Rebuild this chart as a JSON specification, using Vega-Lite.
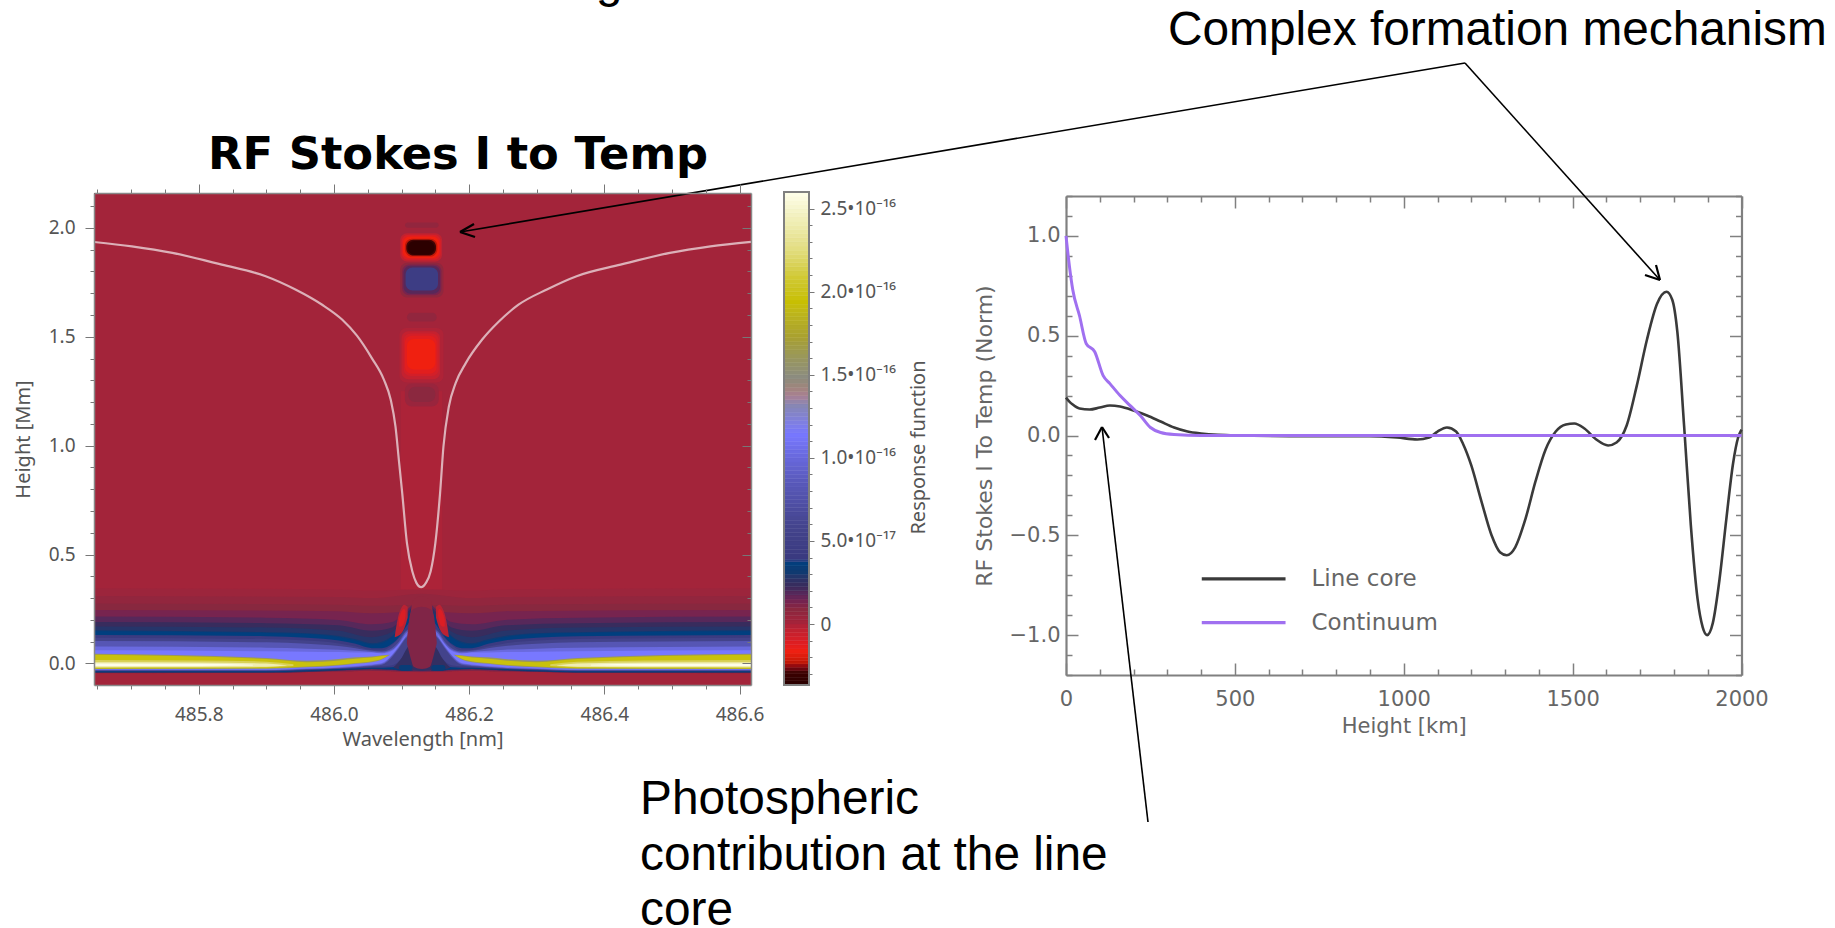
{
"$schema":"https://vega.github.io/schema/vega-lite/v6.json",
"width":1835,"height":928,"padding":0,"autosize":{"type":"none"},"background":"white",
"config":{"view":{"stroke":null},"axis":{"grid":false,"labelOverlap":false,"labelBound":false,"labelFlush":false,"titleFontWeight":"normal"}},
"datasets":{
"base":[
{"lam0":485.645,"lam1":486.617,"h0":-0.099,"h1":2.16,"v":0},
{"lam0":486.099,"lam1":486.16,"h0":0.34,"h1":1.25,"v":-0.015}
],
"bands":[
{"b":"a","lam":485.645,"lo":-0.046,"hi":0.345,"v":0.02},{"b":"a","lam":486.007,"lo":-0.038,"hi":0.34,"v":0.02},{"b":"a","lam":486.056,"lo":-0.034,"hi":0.335,"v":0.02},{"b":"a","lam":486.13,"lo":-0.04,"hi":0.34,"v":0.02},{"b":"a","lam":486.204,"lo":-0.034,"hi":0.335,"v":0.02},{"b":"a","lam":486.253,"lo":-0.038,"hi":0.34,"v":0.02},{"b":"a","lam":486.617,"lo":-0.046,"hi":0.345,"v":0.02},
{"b":"b","lam":485.645,"lo":-0.045,"hi":0.31,"v":0.05},{"b":"b","lam":486.007,"lo":-0.037,"hi":0.305,"v":0.05},{"b":"b","lam":486.056,"lo":-0.033,"hi":0.3,"v":0.05},{"b":"b","lam":486.13,"lo":-0.039,"hi":0.32,"v":0.05},{"b":"b","lam":486.204,"lo":-0.033,"hi":0.3,"v":0.05},{"b":"b","lam":486.253,"lo":-0.037,"hi":0.305,"v":0.05},{"b":"b","lam":486.617,"lo":-0.045,"hi":0.31,"v":0.05},
{"b":"c","lam":485.645,"lo":-0.044,"hi":0.275,"v":0.08},{"b":"c","lam":486.007,"lo":-0.036,"hi":0.27,"v":0.08},{"b":"c","lam":486.056,"lo":-0.032,"hi":0.265,"v":0.08},{"b":"c","lam":486.13,"lo":-0.038,"hi":0.27,"v":0.08},{"b":"c","lam":486.204,"lo":-0.032,"hi":0.265,"v":0.08},{"b":"c","lam":486.253,"lo":-0.036,"hi":0.27,"v":0.08},{"b":"c","lam":486.617,"lo":-0.044,"hi":0.275,"v":0.08},
{"b":"d","lam":485.645,"lo":-0.044,"hi":0.245,"v":0.12},{"b":"d","lam":486.007,"lo":-0.036,"hi":0.24,"v":0.12},{"b":"d","lam":486.056,"lo":-0.032,"hi":0.23,"v":0.12},{"b":"d","lam":486.13,"lo":-0.038,"hi":0.24,"v":0.12},{"b":"d","lam":486.204,"lo":-0.032,"hi":0.23,"v":0.12},{"b":"d","lam":486.253,"lo":-0.036,"hi":0.24,"v":0.12},{"b":"d","lam":486.617,"lo":-0.044,"hi":0.245,"v":0.12},

{"b":"eL","lam":485.645,"lo":-0.043,"hi":0.215,"v":0.17},{"b":"eL","lam":485.9,"lo":-0.043,"hi":0.21,"v":0.17},{"b":"eL","lam":486.007,"lo":-0.033,"hi":0.2,"v":0.17},{"b":"eL","lam":486.056,"lo":-0.027,"hi":0.18,"v":0.17},{"b":"eL","lam":486.086,"lo":-0.03,"hi":0.19,"v":0.17},{"b":"eL","lam":486.096,"lo":-0.033,"hi":0.21,"v":0.17},{"b":"eL","lam":486.106,"lo":-0.035,"hi":0.24,"v":0.17},{"b":"eL","lam":486.116,"lo":-0.035,"hi":0.27,"v":0.17},
{"b":"eR","lam":486.617,"lo":-0.043,"hi":0.215,"v":0.17},{"b":"eR","lam":486.36,"lo":-0.043,"hi":0.21,"v":0.17},{"b":"eR","lam":486.253,"lo":-0.033,"hi":0.2,"v":0.17},{"b":"eR","lam":486.204,"lo":-0.027,"hi":0.18,"v":0.17},{"b":"eR","lam":486.174,"lo":-0.03,"hi":0.19,"v":0.17},{"b":"eR","lam":486.164,"lo":-0.033,"hi":0.21,"v":0.17},{"b":"eR","lam":486.154,"lo":-0.035,"hi":0.24,"v":0.17},{"b":"eR","lam":486.144,"lo":-0.035,"hi":0.27,"v":0.17},
{"b":"fL","lam":485.645,"lo":-0.042,"hi":0.19,"v":0.22},{"b":"fL","lam":485.9,"lo":-0.042,"hi":0.185,"v":0.22},{"b":"fL","lam":486.007,"lo":-0.032,"hi":0.175,"v":0.22},{"b":"fL","lam":486.056,"lo":-0.026,"hi":0.15,"v":0.22},{"b":"fL","lam":486.086,"lo":-0.029,"hi":0.165,"v":0.22},{"b":"fL","lam":486.096,"lo":-0.032,"hi":0.19,"v":0.22},{"b":"fL","lam":486.106,"lo":-0.034,"hi":0.225,"v":0.22},{"b":"fL","lam":486.116,"lo":-0.034,"hi":0.26,"v":0.22},
{"b":"fR","lam":486.617,"lo":-0.042,"hi":0.19,"v":0.22},{"b":"fR","lam":486.36,"lo":-0.042,"hi":0.185,"v":0.22},{"b":"fR","lam":486.253,"lo":-0.032,"hi":0.175,"v":0.22},{"b":"fR","lam":486.204,"lo":-0.026,"hi":0.15,"v":0.22},{"b":"fR","lam":486.174,"lo":-0.029,"hi":0.165,"v":0.22},{"b":"fR","lam":486.164,"lo":-0.032,"hi":0.19,"v":0.22},{"b":"fR","lam":486.154,"lo":-0.034,"hi":0.225,"v":0.22},{"b":"fR","lam":486.144,"lo":-0.034,"hi":0.26,"v":0.22},
{"b":"gL","lam":485.645,"lo":-0.041,"hi":0.17,"v":0.27},{"b":"gL","lam":485.9,"lo":-0.041,"hi":0.165,"v":0.27},{"b":"gL","lam":486.007,"lo":-0.031,"hi":0.15,"v":0.27},{"b":"gL","lam":486.056,"lo":-0.025,"hi":0.12,"v":0.27},{"b":"gL","lam":486.086,"lo":-0.028,"hi":0.145,"v":0.27},{"b":"gL","lam":486.096,"lo":-0.031,"hi":0.175,"v":0.27},{"b":"gL","lam":486.106,"lo":-0.033,"hi":0.21,"v":0.27},{"b":"gL","lam":486.116,"lo":-0.033,"hi":0.255,"v":0.27},
{"b":"gR","lam":486.617,"lo":-0.041,"hi":0.17,"v":0.27},{"b":"gR","lam":486.36,"lo":-0.041,"hi":0.165,"v":0.27},{"b":"gR","lam":486.253,"lo":-0.031,"hi":0.15,"v":0.27},{"b":"gR","lam":486.204,"lo":-0.025,"hi":0.12,"v":0.27},{"b":"gR","lam":486.174,"lo":-0.028,"hi":0.145,"v":0.27},{"b":"gR","lam":486.164,"lo":-0.031,"hi":0.175,"v":0.27},{"b":"gR","lam":486.154,"lo":-0.033,"hi":0.21,"v":0.27},{"b":"gR","lam":486.144,"lo":-0.033,"hi":0.255,"v":0.27},

{"b":"hL","lam":485.645,"lo":-0.04,"hi":0.152,"v":0.32},{"b":"hL","lam":485.9,"lo":-0.04,"hi":0.143,"v":0.32},{"b":"hL","lam":485.96,"lo":-0.035,"hi":0.139,"v":0.32},{"b":"hL","lam":486.007,"lo":-0.03,"hi":0.126,"v":0.32},{"b":"hL","lam":486.032,"lo":-0.027,"hi":0.111,"v":0.32},{"b":"hL","lam":486.056,"lo":-0.024,"hi":0.093,"v":0.32},{"b":"hL","lam":486.071,"lo":-0.025,"hi":0.1,"v":0.32},{"b":"hL","lam":486.086,"lo":-0.027,"hi":0.126,"v":0.32},{"b":"hL","lam":486.096,"lo":-0.03,"hi":0.157,"v":0.32},{"b":"hL","lam":486.106,"lo":-0.032,"hi":0.2,"v":0.32},{"b":"hL","lam":486.116,"lo":-0.032,"hi":0.25,"v":0.32},
{"b":"hR","lam":486.617,"lo":-0.04,"hi":0.152,"v":0.32},{"b":"hR","lam":486.36,"lo":-0.04,"hi":0.143,"v":0.32},{"b":"hR","lam":486.3,"lo":-0.035,"hi":0.139,"v":0.32},{"b":"hR","lam":486.253,"lo":-0.03,"hi":0.126,"v":0.32},{"b":"hR","lam":486.228,"lo":-0.027,"hi":0.111,"v":0.32},{"b":"hR","lam":486.204,"lo":-0.024,"hi":0.093,"v":0.32},{"b":"hR","lam":486.189,"lo":-0.025,"hi":0.1,"v":0.32},{"b":"hR","lam":486.174,"lo":-0.027,"hi":0.126,"v":0.32},{"b":"hR","lam":486.164,"lo":-0.03,"hi":0.157,"v":0.32},{"b":"hR","lam":486.154,"lo":-0.032,"hi":0.2,"v":0.32},{"b":"hR","lam":486.144,"lo":-0.032,"hi":0.25,"v":0.32},

{"b":"iL","lam":485.645,"lo":-0.038,"hi":0.148,"v":0.36},{"b":"iL","lam":485.9,"lo":-0.038,"hi":0.14,"v":0.36},{"b":"iL","lam":485.96,"lo":-0.033,"hi":0.135,"v":0.36},{"b":"iL","lam":486.007,"lo":-0.028,"hi":0.12,"v":0.36},{"b":"iL","lam":486.032,"lo":-0.025,"hi":0.104,"v":0.36},{"b":"iL","lam":486.056,"lo":-0.022,"hi":0.087,"v":0.36},{"b":"iL","lam":486.071,"lo":-0.023,"hi":0.093,"v":0.36},{"b":"iL","lam":486.086,"lo":-0.025,"hi":0.12,"v":0.36},{"b":"iL","lam":486.096,"lo":-0.028,"hi":0.15,"v":0.36},{"b":"iL","lam":486.106,"lo":-0.03,"hi":0.195,"v":0.36},{"b":"iL","lam":486.116,"lo":-0.03,"hi":0.24,"v":0.36},
{"b":"iR","lam":486.617,"lo":-0.038,"hi":0.148,"v":0.36},{"b":"iR","lam":486.36,"lo":-0.038,"hi":0.14,"v":0.36},{"b":"iR","lam":486.3,"lo":-0.033,"hi":0.135,"v":0.36},{"b":"iR","lam":486.253,"lo":-0.028,"hi":0.12,"v":0.36},{"b":"iR","lam":486.228,"lo":-0.025,"hi":0.104,"v":0.36},{"b":"iR","lam":486.204,"lo":-0.022,"hi":0.087,"v":0.36},{"b":"iR","lam":486.189,"lo":-0.023,"hi":0.093,"v":0.36},{"b":"iR","lam":486.174,"lo":-0.025,"hi":0.12,"v":0.36},{"b":"iR","lam":486.164,"lo":-0.028,"hi":0.15,"v":0.36},{"b":"iR","lam":486.154,"lo":-0.03,"hi":0.195,"v":0.36},{"b":"iR","lam":486.144,"lo":-0.03,"hi":0.24,"v":0.36},

{"b":"jL","lam":485.645,"lo":-0.036,"hi":0.131,"v":0.41},{"b":"jL","lam":485.9,"lo":-0.036,"hi":0.125,"v":0.41},{"b":"jL","lam":485.96,"lo":-0.031,"hi":0.118,"v":0.41},{"b":"jL","lam":486.007,"lo":-0.026,"hi":0.105,"v":0.41},{"b":"jL","lam":486.032,"lo":-0.023,"hi":0.09,"v":0.41},{"b":"jL","lam":486.056,"lo":-0.02,"hi":0.07,"v":0.41},{"b":"jL","lam":486.071,"lo":-0.02,"hi":0.07,"v":0.41},{"b":"jL","lam":486.086,"lo":-0.018,"hi":0.09,"v":0.41},{"b":"jL","lam":486.096,"lo":-0.01,"hi":0.12,"v":0.41},{"b":"jL","lam":486.106,"lo":0.03,"hi":0.165,"v":0.41},{"b":"jL","lam":486.116,"lo":0.08,"hi":0.21,"v":0.41},
{"b":"jR","lam":486.617,"lo":-0.036,"hi":0.131,"v":0.41},{"b":"jR","lam":486.36,"lo":-0.036,"hi":0.125,"v":0.41},{"b":"jR","lam":486.3,"lo":-0.031,"hi":0.118,"v":0.41},{"b":"jR","lam":486.253,"lo":-0.026,"hi":0.105,"v":0.41},{"b":"jR","lam":486.228,"lo":-0.023,"hi":0.09,"v":0.41},{"b":"jR","lam":486.204,"lo":-0.02,"hi":0.07,"v":0.41},{"b":"jR","lam":486.189,"lo":-0.02,"hi":0.07,"v":0.41},{"b":"jR","lam":486.174,"lo":-0.018,"hi":0.09,"v":0.41},{"b":"jR","lam":486.164,"lo":-0.01,"hi":0.12,"v":0.41},{"b":"jR","lam":486.154,"lo":0.03,"hi":0.165,"v":0.41},{"b":"jR","lam":486.144,"lo":0.08,"hi":0.21,"v":0.41},

{"b":"kL","lam":485.645,"lo":-0.034,"hi":0.118,"v":0.55},{"b":"kL","lam":485.9,"lo":-0.034,"hi":0.112,"v":0.55},{"b":"kL","lam":485.96,"lo":-0.029,"hi":0.105,"v":0.55},{"b":"kL","lam":486.007,"lo":-0.024,"hi":0.092,"v":0.55},{"b":"kL","lam":486.032,"lo":-0.02,"hi":0.078,"v":0.55},{"b":"kL","lam":486.056,"lo":-0.016,"hi":0.062,"v":0.55},{"b":"kL","lam":486.071,"lo":-0.013,"hi":0.06,"v":0.55},{"b":"kL","lam":486.086,"lo":-0.008,"hi":0.085,"v":0.55},{"b":"kL","lam":486.096,"lo":0.01,"hi":0.115,"v":0.55},{"b":"kL","lam":486.106,"lo":0.05,"hi":0.15,"v":0.55},{"b":"kL","lam":486.116,"lo":0.12,"hi":0.17,"v":0.55},
{"b":"kR","lam":486.617,"lo":-0.034,"hi":0.118,"v":0.55},{"b":"kR","lam":486.36,"lo":-0.034,"hi":0.112,"v":0.55},{"b":"kR","lam":486.3,"lo":-0.029,"hi":0.105,"v":0.55},{"b":"kR","lam":486.253,"lo":-0.024,"hi":0.092,"v":0.55},{"b":"kR","lam":486.228,"lo":-0.02,"hi":0.078,"v":0.55},{"b":"kR","lam":486.204,"lo":-0.016,"hi":0.062,"v":0.55},{"b":"kR","lam":486.189,"lo":-0.013,"hi":0.06,"v":0.55},{"b":"kR","lam":486.174,"lo":-0.008,"hi":0.085,"v":0.55},{"b":"kR","lam":486.164,"lo":0.01,"hi":0.115,"v":0.55},{"b":"kR","lam":486.154,"lo":0.05,"hi":0.15,"v":0.55},{"b":"kR","lam":486.144,"lo":0.12,"hi":0.17,"v":0.55},

{"b":"lL","lam":485.645,"lo":-0.032,"hi":0.103,"v":0.8},{"b":"lL","lam":485.9,"lo":-0.032,"hi":0.097,"v":0.8},{"b":"lL","lam":485.96,"lo":-0.027,"hi":0.09,"v":0.8},{"b":"lL","lam":486.007,"lo":-0.022,"hi":0.08,"v":0.8},{"b":"lL","lam":486.032,"lo":-0.017,"hi":0.07,"v":0.8},{"b":"lL","lam":486.056,"lo":-0.012,"hi":0.058,"v":0.8},{"b":"lL","lam":486.071,"lo":-0.006,"hi":0.055,"v":0.8},{"b":"lL","lam":486.086,"lo":0.03,"hi":0.07,"v":0.8},{"b":"lL","lam":486.096,"lo":0.07,"hi":0.1,"v":0.8},{"b":"lL","lam":486.106,"lo":0.115,"hi":0.145,"v":0.8},{"b":"lL","lam":486.116,"lo":0.14,"hi":0.16,"v":0.8},
{"b":"lR","lam":486.617,"lo":-0.032,"hi":0.103,"v":0.8},{"b":"lR","lam":486.36,"lo":-0.032,"hi":0.097,"v":0.8},{"b":"lR","lam":486.3,"lo":-0.027,"hi":0.09,"v":0.8},{"b":"lR","lam":486.253,"lo":-0.022,"hi":0.08,"v":0.8},{"b":"lR","lam":486.228,"lo":-0.017,"hi":0.07,"v":0.8},{"b":"lR","lam":486.204,"lo":-0.012,"hi":0.058,"v":0.8},{"b":"lR","lam":486.189,"lo":-0.006,"hi":0.055,"v":0.8},{"b":"lR","lam":486.174,"lo":0.03,"hi":0.07,"v":0.8},{"b":"lR","lam":486.164,"lo":0.07,"hi":0.1,"v":0.8},{"b":"lR","lam":486.154,"lo":0.115,"hi":0.145,"v":0.8},{"b":"lR","lam":486.144,"lo":0.14,"hi":0.16,"v":0.8},

{"b":"mL","lam":485.645,"lo":-0.03,"hi":0.078,"v":1.0},{"b":"mL","lam":485.9,"lo":-0.03,"hi":0.072,"v":1.0},{"b":"mL","lam":485.96,"lo":-0.025,"hi":0.068,"v":1.0},{"b":"mL","lam":486.007,"lo":-0.02,"hi":0.063,"v":1.0},{"b":"mL","lam":486.032,"lo":-0.015,"hi":0.058,"v":1.0},{"b":"mL","lam":486.056,"lo":-0.008,"hi":0.053,"v":1.0},{"b":"mL","lam":486.071,"lo":-0.002,"hi":0.05,"v":1.0},{"b":"mL","lam":486.086,"lo":0.036,"hi":0.063,"v":1.0},{"b":"mL","lam":486.096,"lo":0.075,"hi":0.092,"v":1.0},{"b":"mL","lam":486.106,"lo":0.12,"hi":0.138,"v":1.0},{"b":"mL","lam":486.116,"lo":0.15,"hi":0.155,"v":1.0},
{"b":"mR","lam":486.617,"lo":-0.03,"hi":0.078,"v":1.0},{"b":"mR","lam":486.36,"lo":-0.03,"hi":0.072,"v":1.0},{"b":"mR","lam":486.3,"lo":-0.025,"hi":0.068,"v":1.0},{"b":"mR","lam":486.253,"lo":-0.02,"hi":0.063,"v":1.0},{"b":"mR","lam":486.228,"lo":-0.015,"hi":0.058,"v":1.0},{"b":"mR","lam":486.204,"lo":-0.008,"hi":0.053,"v":1.0},{"b":"mR","lam":486.189,"lo":-0.002,"hi":0.05,"v":1.0},{"b":"mR","lam":486.174,"lo":0.036,"hi":0.063,"v":1.0},{"b":"mR","lam":486.164,"lo":0.075,"hi":0.092,"v":1.0},{"b":"mR","lam":486.154,"lo":0.12,"hi":0.138,"v":1.0},{"b":"mR","lam":486.144,"lo":0.15,"hi":0.155,"v":1.0},

{"b":"nL","lam":485.645,"lo":-0.028,"hi":0.06,"v":1.13},{"b":"nL","lam":485.9,"lo":-0.028,"hi":0.056,"v":1.13},{"b":"nL","lam":485.96,"lo":-0.022,"hi":0.054,"v":1.13},{"b":"nL","lam":486.007,"lo":-0.017,"hi":0.052,"v":1.13},{"b":"nL","lam":486.032,"lo":-0.012,"hi":0.05,"v":1.13},{"b":"nL","lam":486.056,"lo":-0.005,"hi":0.05,"v":1.13},{"b":"nL","lam":486.071,"lo":0.002,"hi":0.046,"v":1.13},{"b":"nL","lam":486.086,"lo":0.04,"hi":0.058,"v":1.13},{"b":"nL","lam":486.096,"lo":0.08,"hi":0.088,"v":1.13},{"b":"nL","lam":486.106,"lo":0.125,"hi":0.13,"v":1.13},
{"b":"nR","lam":486.617,"lo":-0.028,"hi":0.06,"v":1.13},{"b":"nR","lam":486.36,"lo":-0.028,"hi":0.056,"v":1.13},{"b":"nR","lam":486.3,"lo":-0.022,"hi":0.054,"v":1.13},{"b":"nR","lam":486.253,"lo":-0.017,"hi":0.052,"v":1.13},{"b":"nR","lam":486.228,"lo":-0.012,"hi":0.05,"v":1.13},{"b":"nR","lam":486.204,"lo":-0.005,"hi":0.05,"v":1.13},{"b":"nR","lam":486.189,"lo":0.002,"hi":0.046,"v":1.13},{"b":"nR","lam":486.174,"lo":0.04,"hi":0.058,"v":1.13},{"b":"nR","lam":486.164,"lo":0.08,"hi":0.088,"v":1.13},{"b":"nR","lam":486.154,"lo":0.125,"hi":0.13,"v":1.13},

{"b":"oL","lam":485.645,"lo":-0.026,"hi":0.045,"v":1.6},{"b":"oL","lam":485.9,"lo":-0.024,"hi":0.025,"v":1.6},{"b":"oL","lam":485.96,"lo":-0.018,"hi":0.012,"v":1.6},{"b":"oL","lam":486.007,"lo":-0.009,"hi":0.02,"v":1.6},{"b":"oL","lam":486.032,"lo":-0.001,"hi":0.028,"v":1.6},{"b":"oL","lam":486.056,"lo":0.006,"hi":0.032,"v":1.6},{"b":"oL","lam":486.071,"lo":0.018,"hi":0.038,"v":1.6},{"b":"oL","lam":486.083,"lo":0.04,"hi":0.04,"v":1.6},
{"b":"oR","lam":486.617,"lo":-0.026,"hi":0.045,"v":1.6},{"b":"oR","lam":486.36,"lo":-0.024,"hi":0.025,"v":1.6},{"b":"oR","lam":486.3,"lo":-0.018,"hi":0.012,"v":1.6},{"b":"oR","lam":486.253,"lo":-0.009,"hi":0.02,"v":1.6},{"b":"oR","lam":486.228,"lo":-0.001,"hi":0.028,"v":1.6},{"b":"oR","lam":486.204,"lo":0.006,"hi":0.032,"v":1.6},{"b":"oR","lam":486.189,"lo":0.018,"hi":0.038,"v":1.6},{"b":"oR","lam":486.177,"lo":0.04,"hi":0.04,"v":1.6},

{"b":"pL","lam":485.645,"lo":-0.024,"hi":0.04,"v":1.95},{"b":"pL","lam":485.9,"lo":-0.022,"hi":0.02,"v":1.95},{"b":"pL","lam":485.96,"lo":-0.014,"hi":0.006,"v":1.95},{"b":"pL","lam":486.007,"lo":-0.006,"hi":0.014,"v":1.95},{"b":"pL","lam":486.032,"lo":0.002,"hi":0.022,"v":1.95},{"b":"pL","lam":486.056,"lo":0.01,"hi":0.027,"v":1.95},{"b":"pL","lam":486.071,"lo":0.022,"hi":0.034,"v":1.95},{"b":"pL","lam":486.08,"lo":0.036,"hi":0.036,"v":1.95},
{"b":"pR","lam":486.617,"lo":-0.024,"hi":0.04,"v":1.95},{"b":"pR","lam":486.36,"lo":-0.022,"hi":0.02,"v":1.95},{"b":"pR","lam":486.3,"lo":-0.014,"hi":0.006,"v":1.95},{"b":"pR","lam":486.253,"lo":-0.006,"hi":0.014,"v":1.95},{"b":"pR","lam":486.228,"lo":0.002,"hi":0.022,"v":1.95},{"b":"pR","lam":486.204,"lo":0.01,"hi":0.027,"v":1.95},{"b":"pR","lam":486.189,"lo":0.022,"hi":0.034,"v":1.95},{"b":"pR","lam":486.18,"lo":0.036,"hi":0.036,"v":1.95},

{"b":"qL","lam":485.645,"lo":-0.02,"hi":0.016,"v":2.15},{"b":"qL","lam":485.8,"lo":-0.02,"hi":0.014,"v":2.15},{"b":"qL","lam":485.9,"lo":-0.018,"hi":0.008,"v":2.15},{"b":"qL","lam":485.94,"lo":-0.012,"hi":-0.004,"v":2.15},
{"b":"qR","lam":486.617,"lo":-0.02,"hi":0.016,"v":2.15},{"b":"qR","lam":486.46,"lo":-0.02,"hi":0.014,"v":2.15},{"b":"qR","lam":486.36,"lo":-0.018,"hi":0.008,"v":2.15},{"b":"qR","lam":486.32,"lo":-0.012,"hi":-0.004,"v":2.15},
{"b":"rL","lam":485.645,"lo":-0.017,"hi":0.005,"v":2.4},{"b":"rL","lam":485.8,"lo":-0.016,"hi":0.004,"v":2.4},{"b":"rL","lam":485.9,"lo":-0.015,"hi":0,"v":2.4},{"b":"rL","lam":485.93,"lo":-0.01,"hi":-0.008,"v":2.4},
{"b":"rR","lam":486.617,"lo":-0.017,"hi":0.005,"v":2.4},{"b":"rR","lam":486.46,"lo":-0.016,"hi":0.004,"v":2.4},{"b":"rR","lam":486.36,"lo":-0.015,"hi":0,"v":2.4},{"b":"rR","lam":486.33,"lo":-0.01,"hi":-0.008,"v":2.4},
{"b":"sL","lam":485.645,"lo":-0.012,"hi":0,"v":2.58},{"b":"sL","lam":485.8,"lo":-0.012,"hi":-0.002,"v":2.58},{"b":"sL","lam":485.88,"lo":-0.01,"hi":-0.006,"v":2.58},
{"b":"sR","lam":486.617,"lo":-0.012,"hi":0,"v":2.58},{"b":"sR","lam":486.46,"lo":-0.012,"hi":-0.002,"v":2.58},{"b":"sR","lam":486.38,"lo":-0.01,"hi":-0.006,"v":2.58},

{"b":"c3","lam":486.113,"lo":0.2,"hi":0.22,"v":0.05},{"b":"c3","lam":486.117,"lo":0.1,"hi":0.29,"v":0.05},{"b":"c3","lam":486.13,"lo":0.1,"hi":0.31,"v":0.05},{"b":"c3","lam":486.143,"lo":0.1,"hi":0.29,"v":0.05},{"b":"c3","lam":486.147,"lo":0.2,"hi":0.22,"v":0.05},
{"b":"c1","lam":486.088,"lo":-0.02,"hi":-0.018,"v":0.24},{"b":"c1","lam":486.1,"lo":-0.03,"hi":0.025,"v":0.24},{"b":"c1","lam":486.108,"lo":-0.032,"hi":0.07,"v":0.24},{"b":"c1","lam":486.115,"lo":-0.032,"hi":0.09,"v":0.24},{"b":"c1","lam":486.13,"lo":-0.035,"hi":0.09,"v":0.24},{"b":"c1","lam":486.145,"lo":-0.032,"hi":0.09,"v":0.24},{"b":"c1","lam":486.152,"lo":-0.032,"hi":0.07,"v":0.24},{"b":"c1","lam":486.16,"lo":-0.03,"hi":0.025,"v":0.24},{"b":"c1","lam":486.172,"lo":-0.02,"hi":-0.018,"v":0.24},
{"b":"c2","lam":486.108,"lo":0.09,"hi":0.1,"v":0.1},{"b":"c2","lam":486.113,"lo":0.03,"hi":0.23,"v":0.1},{"b":"c2","lam":486.118,"lo":-0.015,"hi":0.25,"v":0.1},{"b":"c2","lam":486.13,"lo":-0.025,"hi":0.26,"v":0.1},{"b":"c2","lam":486.142,"lo":-0.015,"hi":0.25,"v":0.1},{"b":"c2","lam":486.147,"lo":0.03,"hi":0.23,"v":0.1},{"b":"c2","lam":486.152,"lo":0.09,"hi":0.1,"v":0.1},

{"b":"t1","lam":486.09,"lo":0.12,"hi":0.125,"v":-0.04},{"b":"t1","lam":486.094,"lo":0.125,"hi":0.2,"v":-0.04},{"b":"t1","lam":486.099,"lo":0.135,"hi":0.25,"v":-0.04},{"b":"t1","lam":486.104,"lo":0.16,"hi":0.27,"v":-0.04},{"b":"t1","lam":486.109,"lo":0.21,"hi":0.26,"v":-0.04},
{"b":"t2","lam":486.096,"lo":0.17,"hi":0.2,"v":-0.12},{"b":"t2","lam":486.1,"lo":0.17,"hi":0.24,"v":-0.12},{"b":"t2","lam":486.104,"lo":0.19,"hi":0.25,"v":-0.12},{"b":"t2","lam":486.106,"lo":0.22,"hi":0.24,"v":-0.12},
{"b":"t3","lam":486.151,"lo":0.21,"hi":0.26,"v":-0.04},{"b":"t3","lam":486.156,"lo":0.16,"hi":0.27,"v":-0.04},{"b":"t3","lam":486.161,"lo":0.135,"hi":0.25,"v":-0.04},{"b":"t3","lam":486.166,"lo":0.125,"hi":0.2,"v":-0.04},{"b":"t3","lam":486.17,"lo":0.12,"hi":0.125,"v":-0.04},
{"b":"t4","lam":486.154,"lo":0.22,"hi":0.24,"v":-0.12},{"b":"t4","lam":486.156,"lo":0.19,"hi":0.25,"v":-0.12},{"b":"t4","lam":486.16,"lo":0.17,"hi":0.24,"v":-0.12},{"b":"t4","lam":486.164,"lo":0.17,"hi":0.2,"v":-0.12}
],
"blobs":[
{"lam0":486.096,"lam1":486.116,"h0":-0.033,"h1":-0.007,"v":0.33},
{"lam0":486.144,"lam1":486.165,"h0":-0.033,"h1":-0.007,"v":0.33},
{"lam0":486.105,"lam1":486.155,"h0":2.0,"h1":2.025,"v":0.05},
{"lam0":486.098,"lam1":486.16,"h0":1.845,"h1":1.975,"v":-0.05},
{"lam0":486.1,"lam1":486.158,"h0":1.853,"h1":1.968,"v":-0.12},
{"lam0":486.102,"lam1":486.156,"h0":1.86,"h1":1.96,"v":-0.18},
{"lam0":486.105,"lam1":486.153,"h0":1.868,"h1":1.95,"v":-0.24},
{"lam0":486.107,"lam1":486.151,"h0":1.873,"h1":1.945,"v":-0.3},
{"lam0":486.109,"lam1":486.149,"h0":1.877,"h1":1.94,"v":-0.367},
{"lam0":486.098,"lam1":486.162,"h0":1.68,"h1":1.84,"v":0.06},
{"lam0":486.101,"lam1":486.159,"h0":1.69,"h1":1.832,"v":0.12},
{"lam0":486.103,"lam1":486.157,"h0":1.697,"h1":1.826,"v":0.17},
{"lam0":486.106,"lam1":486.154,"h0":1.712,"h1":1.818,"v":0.45},
{"lam0":486.108,"lam1":486.152,"h0":1.57,"h1":1.61,"v":0.05},
{"lam0":486.097,"lam1":486.162,"h0":1.29,"h1":1.54,"v":-0.02},
{"lam0":486.1,"lam1":486.157,"h0":1.305,"h1":1.525,"v":-0.06},
{"lam0":486.103,"lam1":486.155,"h0":1.32,"h1":1.515,"v":-0.1},
{"lam0":486.105,"lam1":486.152,"h0":1.33,"h1":1.505,"v":-0.14},
{"lam0":486.108,"lam1":486.15,"h0":1.35,"h1":1.49,"v":-0.18},
{"lam0":486.105,"lam1":486.155,"h0":1.18,"h1":1.285,"v":0.03},
{"lam0":486.11,"lam1":486.15,"h0":1.2,"h1":1.27,"v":0.07}
],
"white":[
{"lam":485.645,"h":1.935},{"lam":485.701,"h":1.915},{"lam":485.761,"h":1.885},{"lam":485.834,"h":1.831},{"lam":485.899,"h":1.778},{"lam":485.943,"h":1.717},{"lam":485.982,"h":1.648},{"lam":486.012,"h":1.579},{"lam":486.034,"h":1.505},{"lam":486.056,"h":1.402},{"lam":486.074,"h":1.302},{"lam":486.084,"h":1.211},{"lam":486.091,"h":1.088},{"lam":486.096,"h":0.935},{"lam":486.101,"h":0.782},{"lam":486.108,"h":0.552},{"lam":486.116,"h":0.422},{"lam":486.122,"h":0.37},{"lam":486.129,"h":0.35},{"lam":486.136,"h":0.37},{"lam":486.143,"h":0.422},{"lam":486.15,"h":0.552},{"lam":486.157,"h":0.782},{"lam":486.162,"h":0.996},{"lam":486.17,"h":1.18},{"lam":486.18,"h":1.287},{"lam":486.195,"h":1.379},{"lam":486.219,"h":1.486},{"lam":486.244,"h":1.57},{"lam":486.273,"h":1.647},{"lam":486.315,"h":1.717},{"lam":486.359,"h":1.778},{"lam":486.424,"h":1.831},{"lam":486.497,"h":1.885},{"lam":486.557,"h":1.915},{"lam":486.617,"h":1.936}
],
"bar":[
{"lo":-0.367,"hi":-0.34},{"lo":-0.34,"hi":-0.32},{"lo":-0.32,"hi":-0.3},{"lo":-0.3,"hi":-0.28},{"lo":-0.28,"hi":-0.26},{"lo":-0.26,"hi":-0.24},{"lo":-0.24,"hi":-0.22},{"lo":-0.22,"hi":-0.2},{"lo":-0.2,"hi":-0.175},{"lo":-0.175,"hi":-0.15},{"lo":-0.15,"hi":-0.125},{"lo":-0.125,"hi":-0.1},{"lo":-0.1,"hi":-0.075},{"lo":-0.075,"hi":-0.05},{"lo":-0.05,"hi":-0.025},{"lo":-0.025,"hi":0},{"lo":0,"hi":0.025},{"lo":0.025,"hi":0.05},{"lo":0.05,"hi":0.075},{"lo":0.075,"hi":0.1},{"lo":0.1,"hi":0.125},{"lo":0.125,"hi":0.15},{"lo":0.15,"hi":0.175},{"lo":0.175,"hi":0.2},{"lo":0.2,"hi":0.225},{"lo":0.225,"hi":0.25},{"lo":0.25,"hi":0.275},{"lo":0.275,"hi":0.3},{"lo":0.3,"hi":0.325},{"lo":0.325,"hi":0.35},{"lo":0.35,"hi":0.375},{"lo":0.375,"hi":0.39},{"lo":0.39,"hi":0.425},{"lo":0.425,"hi":0.45},{"lo":0.45,"hi":0.475},{"lo":0.475,"hi":0.5},{"lo":0.5,"hi":0.525},{"lo":0.525,"hi":0.55},{"lo":0.55,"hi":0.575},{"lo":0.575,"hi":0.6},{"lo":0.6,"hi":0.625},{"lo":0.625,"hi":0.65},{"lo":0.65,"hi":0.675},{"lo":0.675,"hi":0.7},{"lo":0.7,"hi":0.725},{"lo":0.725,"hi":0.75},{"lo":0.75,"hi":0.775},{"lo":0.775,"hi":0.8},{"lo":0.8,"hi":0.825},{"lo":0.825,"hi":0.85},{"lo":0.85,"hi":0.875},{"lo":0.875,"hi":0.9},{"lo":0.9,"hi":0.925},{"lo":0.925,"hi":0.95},{"lo":0.95,"hi":0.975},{"lo":0.975,"hi":1},{"lo":1,"hi":1.025},{"lo":1.025,"hi":1.05},{"lo":1.05,"hi":1.075},{"lo":1.075,"hi":1.1},{"lo":1.1,"hi":1.125},{"lo":1.125,"hi":1.15},{"lo":1.15,"hi":1.175},{"lo":1.175,"hi":1.2},{"lo":1.2,"hi":1.225},{"lo":1.225,"hi":1.25},{"lo":1.25,"hi":1.275},{"lo":1.275,"hi":1.3},{"lo":1.3,"hi":1.325},{"lo":1.325,"hi":1.35},{"lo":1.35,"hi":1.375},{"lo":1.375,"hi":1.4},{"lo":1.4,"hi":1.425},{"lo":1.425,"hi":1.45},{"lo":1.45,"hi":1.475},{"lo":1.475,"hi":1.5},{"lo":1.5,"hi":1.525},{"lo":1.525,"hi":1.55},{"lo":1.55,"hi":1.575},{"lo":1.575,"hi":1.6},{"lo":1.6,"hi":1.625},{"lo":1.625,"hi":1.65},{"lo":1.65,"hi":1.675},{"lo":1.675,"hi":1.7},{"lo":1.7,"hi":1.725},{"lo":1.725,"hi":1.75},{"lo":1.75,"hi":1.775},{"lo":1.775,"hi":1.8},{"lo":1.8,"hi":1.825},{"lo":1.825,"hi":1.85},{"lo":1.85,"hi":1.875},{"lo":1.875,"hi":1.9},{"lo":1.9,"hi":1.925},{"lo":1.925,"hi":1.95},{"lo":1.95,"hi":1.975},{"lo":1.975,"hi":2},{"lo":2,"hi":2.025},{"lo":2.025,"hi":2.05},{"lo":2.05,"hi":2.075},{"lo":2.075,"hi":2.1},{"lo":2.1,"hi":2.125},{"lo":2.125,"hi":2.15},{"lo":2.15,"hi":2.175},{"lo":2.175,"hi":2.2},{"lo":2.2,"hi":2.225},{"lo":2.225,"hi":2.25},{"lo":2.25,"hi":2.275},{"lo":2.275,"hi":2.3},{"lo":2.3,"hi":2.325},{"lo":2.325,"hi":2.35},{"lo":2.35,"hi":2.375},{"lo":2.375,"hi":2.4},{"lo":2.4,"hi":2.425},{"lo":2.425,"hi":2.45},{"lo":2.45,"hi":2.475},{"lo":2.475,"hi":2.5},{"lo":2.5,"hi":2.525},{"lo":2.525,"hi":2.55},{"lo":2.55,"hi":2.575},{"lo":2.575,"hi":2.6}
],
"core":[
{"km":0,"rf":0.19},{"km":10,"rf":0.17},{"km":20,"rf":0.155},{"km":40,"rf":0.135},{"km":70,"rf":0.13},{"km":100,"rf":0.14},{"km":130,"rf":0.15},{"km":160,"rf":0.145},{"km":200,"rf":0.125},{"km":240,"rf":0.1},{"km":280,"rf":0.07},{"km":320,"rf":0.04},{"km":360,"rf":0.02},{"km":400,"rf":0.01},{"km":450,"rf":0.003},{"km":500,"rf":0},{"km":700,"rf":-0.003},{"km":900,"rf":-0.003},{"km":980,"rf":-0.01},{"km":1040,"rf":-0.02},{"km":1075,"rf":-0.01},{"km":1100,"rf":0.02},{"km":1128,"rf":0.04},{"km":1155,"rf":0.02},{"km":1175,"rf":-0.04},{"km":1200,"rf":-0.15},{"km":1230,"rf":-0.33},{"km":1260,"rf":-0.5},{"km":1285,"rf":-0.585},{"km":1305,"rf":-0.6},{"km":1330,"rf":-0.56},{"km":1360,"rf":-0.42},{"km":1390,"rf":-0.23},{"km":1420,"rf":-0.07},{"km":1450,"rf":0.02},{"km":1480,"rf":0.055},{"km":1505,"rf":0.06},{"km":1535,"rf":0.035},{"km":1570,"rf":-0.02},{"km":1605,"rf":-0.05},{"km":1630,"rf":-0.035},{"km":1660,"rf":0.05},{"km":1690,"rf":0.25},{"km":1720,"rf":0.48},{"km":1750,"rf":0.66},{"km":1778,"rf":0.72},{"km":1795,"rf":0.68},{"km":1810,"rf":0.52},{"km":1830,"rf":0.05},{"km":1850,"rf":-0.45},{"km":1870,"rf":-0.82},{"km":1885,"rf":-0.96},{"km":1898,"rf":-1.0},{"km":1915,"rf":-0.94},{"km":1935,"rf":-0.72},{"km":1955,"rf":-0.42},{"km":1975,"rf":-0.14},{"km":1990,"rf":-0.01},{"km":2000,"rf":0.03}
],
"cont":[
{"km":0,"rf":1.0},{"km":10,"rf":0.85},{"km":20,"rf":0.73},{"km":40,"rf":0.6},{"km":60,"rf":0.46},{"km":85,"rf":0.42},{"km":110,"rf":0.3},{"km":130,"rf":0.26},{"km":160,"rf":0.2},{"km":190,"rf":0.15},{"km":220,"rf":0.1},{"km":250,"rf":0.04},{"km":280,"rf":0.015},{"km":320,"rf":0.005},{"km":400,"rf":0},{"km":1000,"rf":0},{"km":2000,"rf":0}
],
"key":[
{"name":"Line core","km0":402,"km1":650,"lab":727,"rf":-0.718},
{"name":"Continuum","km0":402,"km1":650,"lab":727,"rf":-0.938}
],
"notes":[
{"t":"g","px":596,"py":-3},
{"t":"Complex formation mechanism","px":1168,"py":45},
{"t":"Photospheric","px":640,"py":814},
{"t":"contribution at the line","px":640,"py":870},
{"t":"core","px":640,"py":925}
],
"arrows":[
{"px0":1465,"py0":63,"px1":460,"py1":232},
{"px0":1465,"py0":63,"px1":1660,"py1":280},
{"px0":1148,"py0":822,"px1":1102,"py1":427}
],
"heads":[
{"px0":460,"py0":232,"px1":474,"py1":224},{"px0":460,"py0":232,"px1":475,"py1":237},
{"px0":1660,"py0":280,"px1":1645,"py1":275},{"px0":1660,"py0":280,"px1":1656,"py1":265},
{"px0":1102,"py0":427,"px1":1095,"py1":440},{"px0":1102,"py0":427,"px1":1109,"py1":438}
]
},
"resolve":{"scale":{"x":"independent","y":"independent"},"axis":{"x":"independent","y":"independent"}},
"layer":[
{"data":{"name":"base"},"mark":{"type":"rect"},
 "encoding":{
  "x":{"field":"lam0","type":"quantitative","scale":{"domain":[485.645,486.617],"range":[94,751],"nice":false,"zero":false},
   "axis":{"orient":"bottom","offset":-243,"title":"Wavelength [nm]","titleFont":"Noto Sans","titleFontSize":20,"titleColor":"#555","titlePadding":5,"labelFont":"Noto Sans","labelFontSize":19,"labelColor":"#555","labelPadding":11,"domainColor":"#888","domainWidth":1.5,"tickColor":"#777","zindex":1,
   "values":[485.65,485.7,485.75,485.8,485.85,485.9,485.95,486.0,486.05,486.1,486.15,486.2,486.25,486.3,486.35,486.4,486.45,486.5,486.55,486.6],
   "tickSize":{"condition":{"test":"abs(datum.value*5-round(datum.value*5))<0.001","value":9},"value":4},
   "labelExpr":"abs(datum.value*5-round(datum.value*5))<0.001 ? format(datum.value,'.1f') : ''"}},
  "x2":{"field":"lam1"},
  "y":{"field":"h0","type":"quantitative","scale":{"domain":[-0.099,2.16],"range":[685,193],"nice":false,"zero":false},
   "axis":{"orient":"left","offset":-94,"title":"Height [Mm]","titleFont":"Noto Sans","titleFontSize":20,"titleColor":"#555","titlePadding":15,"labelFont":"Noto Sans","labelFontSize":19,"labelColor":"#555","labelPadding":10,"domainColor":"#888","domainWidth":1.5,"tickColor":"#777","zindex":1,
   "values":[-0.1,0,0.1,0.2,0.3,0.4,0.5,0.6,0.7,0.8,0.9,1,1.1,1.2,1.3,1.4,1.5,1.6,1.7,1.8,1.9,2,2.1],
   "tickSize":{"condition":{"test":"abs(datum.value*2-round(datum.value*2))<0.001","value":9},"value":4},
   "labelExpr":"abs(datum.value*2-round(datum.value*2))<0.001 ? format(datum.value,'.1f') : ''"}},
  "y2":{"field":"h1"},
  "fill":{"field":"v","type":"quantitative","legend":null,"scale":{"domain":[-0.367,-0.3,-0.24,-0.18,-0.05,0,0.08,0.21,0.3,0.36,0.39,0.57,0.87,1.13,1.31,1.47,1.71,1.93,2.07,2.27,2.6],"range":["#000000","#400505","#c01808","#f02010","#c02230","#a3243a","#88283f","#3a2a5a","#103a70","#003f7f","#3a3a80","#44448c","#5c5cc0","#7878ff","#8888b0","#8c8c80","#a8a030","#c8c000","#d0c830","#e5e08a","#ffffee"]}}
 }},
{"data":{"name":"bands"},"mark":{"type":"area","interpolate":"monotone"},
 "encoding":{
  "x":{"field":"lam","type":"quantitative","axis":null,"scale":{"domain":[485.645,486.617],"range":[94,751],"nice":false,"zero":false}},
  "y":{"field":"hi","type":"quantitative","axis":null,"scale":{"domain":[-0.099,2.16],"range":[685,193],"nice":false,"zero":false}},
  "y2":{"field":"lo"},
  "detail":{"field":"b"},
  "fill":{"field":"v","type":"quantitative","legend":null,"scale":{"domain":[-0.367,-0.3,-0.24,-0.18,-0.05,0,0.08,0.21,0.3,0.36,0.39,0.57,0.87,1.13,1.31,1.47,1.71,1.93,2.07,2.27,2.6],"range":["#000000","#400505","#c01808","#f02010","#c02230","#a3243a","#88283f","#3a2a5a","#103a70","#003f7f","#3a3a80","#44448c","#5c5cc0","#7878ff","#8888b0","#8c8c80","#a8a030","#c8c000","#d0c830","#e5e08a","#ffffee"]}}
 }},
{"data":{"name":"blobs"},"mark":{"type":"rect","cornerRadius":7},
 "encoding":{
  "x":{"field":"lam0","type":"quantitative","axis":null,"scale":{"domain":[485.645,486.617],"range":[94,751],"nice":false,"zero":false}},
  "x2":{"field":"lam1"},
  "y":{"field":"h0","type":"quantitative","axis":null,"scale":{"domain":[-0.099,2.16],"range":[685,193],"nice":false,"zero":false}},
  "y2":{"field":"h1"},
  "fill":{"field":"v","type":"quantitative","legend":null,"scale":{"domain":[-0.367,-0.3,-0.24,-0.18,-0.05,0,0.08,0.21,0.3,0.36,0.39,0.57,0.87,1.13,1.31,1.47,1.71,1.93,2.07,2.27,2.6],"range":["#000000","#400505","#c01808","#f02010","#c02230","#a3243a","#88283f","#3a2a5a","#103a70","#003f7f","#3a3a80","#44448c","#5c5cc0","#7878ff","#8888b0","#8c8c80","#a8a030","#c8c000","#d0c830","#e5e08a","#ffffee"]}}
 }},
{"data":{"name":"white"},"mark":{"type":"line","color":"#dcb0b8","strokeWidth":2.2,"interpolate":"monotone"},
 "encoding":{
  "x":{"field":"lam","type":"quantitative","scale":{"domain":[485.645,486.617],"range":[94,751],"nice":false,"zero":false},
   "axis":{"orient":"top","offset":-193,"title":null,"labels":false,"domainColor":"#888","domainWidth":1.5,"tickColor":"#777","zindex":1,
   "values":[485.65,485.7,485.75,485.8,485.85,485.9,485.95,486.0,486.05,486.1,486.15,486.2,486.25,486.3,486.35,486.4,486.45,486.5,486.55,486.6],
   "tickSize":{"condition":{"test":"abs(datum.value*5-round(datum.value*5))<0.001","value":9},"value":4}}},
  "y":{"field":"h","type":"quantitative","scale":{"domain":[-0.099,2.16],"range":[685,193],"nice":false,"zero":false},
   "axis":{"orient":"right","offset":-1084,"title":null,"labels":false,"domainColor":"#888","domainWidth":1.5,"tickColor":"#777","zindex":1,
   "values":[-0.1,0,0.1,0.2,0.3,0.4,0.5,0.6,0.7,0.8,0.9,1,1.1,1.2,1.3,1.4,1.5,1.6,1.7,1.8,1.9,2,2.1],
   "tickSize":{"condition":{"test":"abs(datum.value*2-round(datum.value*2))<0.001","value":-9},"value":-4}}}
 }},
{"data":{"name":"bar"},"mark":{"type":"rect","strokeWidth":0.5},
 "encoding":{
  "x":{"datum":0,"type":"quantitative","axis":null,"scale":{"domain":[0,1],"range":[784,809],"nice":false,"zero":false}},
  "x2":{"datum":1},
  "y":{"field":"lo","type":"quantitative","scale":{"domain":[-0.367,2.6],"range":[685,192],"nice":false,"zero":false},
   "axis":{"orient":"right","offset":-1026,"title":"Response function","titleAngle":270,"titleBaseline":"middle","titleX":109,"titleY":447,"titleFont":"Noto Sans","titleFontSize":20,"titleColor":"#555","labelFont":"Noto Sans","labelFontSize":19,"labelColor":"#555","labelPadding":6,"domain":false,"tickColor":"#777",
   "values":[-0.3,-0.2,-0.1,0,0.1,0.2,0.3,0.4,0.5,0.6,0.7,0.8,0.9,1,1.1,1.2,1.3,1.4,1.5,1.6,1.7,1.8,1.9,2,2.1,2.2,2.3,2.4,2.5],
   "tickSize":{"condition":{"test":"abs(datum.value*2-round(datum.value*2))<0.001","value":5},"value":3},
   "labelExpr":"abs(datum.value)<0.001 ? '0' : abs(datum.value-0.5)<0.001 ? '5.0•10⁻¹⁷' : abs(datum.value*2-round(datum.value*2))<0.001 ? format(datum.value,'.1f')+'•10⁻¹⁶' : ''"}},
  "y2":{"field":"hi"},
  "fill":{"field":"lo","type":"quantitative","legend":null,"scale":{"domain":[-0.367,-0.3,-0.24,-0.18,-0.05,0,0.08,0.21,0.3,0.36,0.39,0.57,0.87,1.13,1.31,1.47,1.71,1.93,2.07,2.27,2.6],"range":["#000000","#400505","#c01808","#f02010","#c02230","#a3243a","#88283f","#3a2a5a","#103a70","#003f7f","#3a3a80","#44448c","#5c5cc0","#7878ff","#8888b0","#8c8c80","#a8a030","#c8c000","#d0c830","#e5e08a","#ffffee"]}},
  "stroke":{"field":"lo","type":"quantitative","legend":null,"scale":{"domain":[-0.367,-0.3,-0.24,-0.18,-0.05,0,0.08,0.21,0.3,0.36,0.39,0.57,0.87,1.13,1.31,1.47,1.71,1.93,2.07,2.27,2.6],"range":["#000000","#400505","#c01808","#f02010","#c02230","#a3243a","#88283f","#3a2a5a","#103a70","#003f7f","#3a3a80","#44448c","#5c5cc0","#7878ff","#8888b0","#8c8c80","#a8a030","#c8c000","#d0c830","#e5e08a","#ffffee"]}}
 }},
{"data":{"values":[{"lo":-0.367,"hi":2.6}]},"mark":{"type":"rect","filled":false,"color":"#808080","strokeWidth":2},
 "encoding":{
  "x":{"datum":0,"type":"quantitative","axis":null,"scale":{"domain":[0,1],"range":[784,809],"nice":false,"zero":false}},
  "x2":{"datum":1},
  "y":{"field":"lo","type":"quantitative","axis":null,"scale":{"domain":[-0.367,2.6],"range":[685,192],"nice":false,"zero":false}},
  "y2":{"field":"hi"}
 }},
{"data":{"name":"core"},"mark":{"type":"line","color":"#3a3a3a","strokeWidth":2.6,"interpolate":"monotone"},
 "encoding":{
  "x":{"field":"km","type":"quantitative","scale":{"domain":[0,2000],"range":[1066,1741.5],"nice":false,"zero":false},
   "axis":{"orient":"bottom","offset":-253,"title":"Height [km]","titleFont":"DejaVu Sans","titleFontSize":21,"titleColor":"#666","titlePadding":0,"labelFont":"DejaVu Sans","labelFontSize":21,"labelColor":"#666","labelPadding":25,"domainColor":"#808080","domainWidth":2.2,"tickColor":"#808080","tickWidth":1.5,
   "values":[0,100,200,300,400,500,600,700,800,900,1000,1100,1200,1300,1400,1500,1600,1700,1800,1900,2000],
   "tickSize":{"condition":{"test":"datum.value%500==0","value":-12},"value":-6},
   "labelExpr":"datum.value%500==0 ? format(datum.value,'d') : ''"}},
  "y":{"field":"rf","type":"quantitative","scale":{"domain":[-1.2,1.2],"range":[675,196],"nice":false,"zero":false},
   "axis":{"orient":"left","offset":-1066,"title":"RF Stokes I To Temp (Norm)","titleFont":"DejaVu Sans","titleFontSize":22,"titleColor":"#666","titlePadding":13,"labelFont":"DejaVu Sans","labelFontSize":21,"labelColor":"#666","labelPadding":18,"domainColor":"#808080","domainWidth":2.2,"tickColor":"#808080","tickWidth":1.5,
   "values":[-1.2,-1.1,-1,-0.9,-0.8,-0.7,-0.6,-0.5,-0.4,-0.3,-0.2,-0.1,0,0.1,0.2,0.3,0.4,0.5,0.6,0.7,0.8,0.9,1,1.1,1.2],
   "tickSize":{"condition":{"test":"abs(datum.value*2-round(datum.value*2))<0.001","value":-12},"value":-6},
   "labelExpr":"abs(datum.value*2-round(datum.value*2))<0.001 && abs(datum.value)<1.1 ? format(datum.value,'.1f') : ''"}}
 }},
{"data":{"name":"cont"},"mark":{"type":"line","color":"#a070f0","strokeWidth":3,"interpolate":"monotone"},
 "encoding":{
  "x":{"field":"km","type":"quantitative","scale":{"domain":[0,2000],"range":[1066,1741.5],"nice":false,"zero":false},
   "axis":{"orient":"top","offset":-196,"title":null,"labels":false,"domainColor":"#808080","domainWidth":2.2,"tickColor":"#808080","tickWidth":1.5,
   "values":[0,100,200,300,400,500,600,700,800,900,1000,1100,1200,1300,1400,1500,1600,1700,1800,1900,2000],
   "tickSize":{"condition":{"test":"datum.value%500==0","value":-12},"value":-6}}},
  "y":{"field":"rf","type":"quantitative","scale":{"domain":[-1.2,1.2],"range":[675,196],"nice":false,"zero":false},
   "axis":{"orient":"right","offset":-93.5,"title":null,"labels":false,"domainColor":"#808080","domainWidth":2.2,"tickColor":"#808080","tickWidth":1.5,
   "values":[-1.2,-1.1,-1,-0.9,-0.8,-0.7,-0.6,-0.5,-0.4,-0.3,-0.2,-0.1,0,0.1,0.2,0.3,0.4,0.5,0.6,0.7,0.8,0.9,1,1.1,1.2],
   "tickSize":{"condition":{"test":"abs(datum.value*2-round(datum.value*2))<0.001","value":-12},"value":-6}}}
 }},
{"data":{"name":"key"},"mark":{"type":"rule","strokeWidth":3.2},
 "encoding":{
  "x":{"field":"km0","type":"quantitative","axis":null,"scale":{"domain":[0,2000],"range":[1066,1741.5],"nice":false,"zero":false}},
  "x2":{"field":"km1"},
  "y":{"field":"rf","type":"quantitative","axis":null,"scale":{"domain":[-1.2,1.2],"range":[675,196],"nice":false,"zero":false}},
  "stroke":{"condition":{"test":"datum.name==='Line core'","value":"#3a3a3a"},"value":"#a070f0"}
 }},
{"data":{"name":"key"},"mark":{"type":"text","font":"DejaVu Sans","fontSize":23,"color":"#666","align":"left","baseline":"middle"},
 "encoding":{
  "x":{"field":"lab","type":"quantitative","axis":null,"scale":{"domain":[0,2000],"range":[1066,1741.5],"nice":false,"zero":false}},
  "y":{"field":"rf","type":"quantitative","axis":null,"scale":{"domain":[-1.2,1.2],"range":[675,196],"nice":false,"zero":false}},
  "text":{"field":"name"}
 }},
{"data":{"values":[{"t":"RF Stokes I to Temp","px":208,"py":169}]},"mark":{"type":"text","font":"DejaVu Sans","fontWeight":"bold","fontSize":44.8,"color":"#000","align":"left","baseline":"alphabetic"},
 "encoding":{
  "x":{"field":"px","type":"quantitative","axis":null,"scale":{"domain":[0,1835],"range":[0,1835],"nice":false,"zero":false}},
  "y":{"field":"py","type":"quantitative","axis":null,"scale":{"domain":[0,928],"range":[0,928],"nice":false,"zero":false}},
  "text":{"field":"t"}
 }},
{"data":{"name":"notes"},"mark":{"type":"text","font":"Liberation Sans","fontSize":47.8,"color":"#000","align":"left","baseline":"alphabetic"},
 "encoding":{
  "x":{"field":"px","type":"quantitative","axis":null,"scale":{"domain":[0,1835],"range":[0,1835],"nice":false,"zero":false}},
  "y":{"field":"py","type":"quantitative","axis":null,"scale":{"domain":[0,928],"range":[0,928],"nice":false,"zero":false}},
  "text":{"field":"t"}
 }},
{"data":{"name":"arrows"},"mark":{"type":"rule","color":"#000","strokeWidth":1.6},
 "encoding":{
  "x":{"field":"px0","type":"quantitative","axis":null,"scale":{"domain":[0,1835],"range":[0,1835],"nice":false,"zero":false}},
  "x2":{"field":"px1"},
  "y":{"field":"py0","type":"quantitative","axis":null,"scale":{"domain":[0,928],"range":[0,928],"nice":false,"zero":false}},
  "y2":{"field":"py1"}
 }},
{"data":{"name":"heads"},"mark":{"type":"rule","color":"#000","strokeWidth":2.2},
 "encoding":{
  "x":{"field":"px0","type":"quantitative","axis":null,"scale":{"domain":[0,1835],"range":[0,1835],"nice":false,"zero":false}},
  "x2":{"field":"px1"},
  "y":{"field":"py0","type":"quantitative","axis":null,"scale":{"domain":[0,928],"range":[0,928],"nice":false,"zero":false}},
  "y2":{"field":"py1"}
 }}
]
}
